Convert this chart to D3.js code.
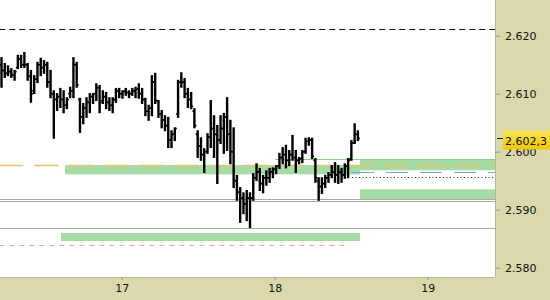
<!DOCTYPE html>
<html><head><meta charset="utf-8">
<script src="https://cdn.jsdelivr.net/npm/d3@7/dist/d3.min.js"></script>
<style>body{margin:0;background:#fff}svg{display:block}text{font-family:"DejaVu Sans",Verdana,sans-serif}</style>
</head><body><svg id="c" width="550" height="300"></svg>
<script>
// ---- data ----
const highs = [2.6163,2.6153,2.6149,2.6144,2.6141,2.6167,2.6167,2.6172,2.6153,2.6141,
2.6132,2.6155,2.6162,2.6158,2.6155,2.6141,2.6106,2.6101,2.6110,2.6106,
2.6094,2.6112,2.6163,2.6155,2.6093,2.6084,2.6094,2.6101,2.6101,2.6118,
2.6115,2.6106,2.6103,2.6094,2.6094,2.6110,2.6110,2.6106,2.6110,2.6106,
2.6110,2.6112,2.6118,2.6110,2.6093,2.6081,2.6132,2.6136,2.6089,2.6072,
2.6063,2.6060,2.6037,2.6042,2.6124,2.6137,2.6127,2.6110,2.6103,2.6075,
2.6037,2.6025,2.6006,2.6032,2.6089,2.6063,2.6046,2.6063,2.6067,2.6094,
2.6055,2.6042,2.5960,2.5939,2.5930,2.5934,2.5930,2.5963,2.5980,2.5972,
2.5960,2.5968,2.5972,2.5973,2.5977,2.5998,2.6008,2.6012,2.6003,2.6029,
2.6003,2.5991,2.6003,2.6024,2.6025,2.6024,2.5989,2.5956,2.5956,2.5960,
2.5965,2.5977,2.5982,2.5977,2.5972,2.5980,2.5989,2.6020,2.6049,2.6037];
const lows = [2.6112,2.6129,2.6132,2.6129,2.6124,2.6144,2.6146,2.6146,2.6124,2.6086,
2.6101,2.6120,2.6132,2.6136,2.6112,2.6094,2.6024,2.6072,2.6077,2.6068,
2.6075,2.6094,2.6094,2.6112,2.6034,2.6049,2.6060,2.6068,2.6084,2.6089,
2.6068,2.6084,2.6075,2.6072,2.6068,2.6086,2.6094,2.6093,2.6098,2.6094,
2.6098,2.6094,2.6093,2.6084,2.6063,2.6055,2.6063,2.6084,2.6060,2.6042,
2.6037,2.6008,2.6008,2.6020,2.6060,2.6112,2.6094,2.6077,2.6075,2.6042,
2.5991,2.5986,2.5965,2.5998,2.6008,2.5991,2.5946,2.6015,2.5998,2.6003,
2.5980,2.5939,2.5917,2.5879,2.5894,2.5882,2.5870,2.5917,2.5951,2.5934,
2.5930,2.5943,2.5948,2.5956,2.5963,2.5972,2.5980,2.5973,2.5977,2.5986,
2.5965,2.5980,2.5982,2.5998,2.6012,2.5989,2.5948,2.5917,2.5929,2.5939,
2.5948,2.5956,2.5948,2.5946,2.5948,2.5955,2.5956,2.5986,2.6015,2.6020];
const opens = [2.6150,2.6140,2.6135,2.6138,2.6132,2.6145,2.6160,2.6150,2.6150,2.6130,
2.6105,2.6125,2.6150,2.6145,2.6150,2.6120,2.6100,2.6090,2.6095,2.6090,
2.6080,2.6100,2.6105,2.6150,2.6090,2.6060,2.6075,2.6085,2.6095,2.6100,
2.6110,2.6088,2.6095,2.6085,2.6080,2.6090,2.6105,2.6100,2.6104,2.6102,
2.6100,2.6105,2.6108,2.6100,2.6090,2.6070,2.6075,2.6120,2.6088,2.6065,
2.6055,2.6045,2.6020,2.6030,2.6065,2.6120,2.6120,2.6100,2.6090,2.6070,
2.6030,2.6010,2.5995,2.6000,2.6025,2.6040,2.6030,2.6020,2.6040,2.6060,
2.6030,2.6000,2.5950,2.5930,2.5920,2.5910,2.5920,2.5920,2.5955,2.5965,
2.5945,2.5955,2.5955,2.5965,2.5970,2.5975,2.5990,2.5995,2.5985,2.5995,
2.5990,2.5985,2.5988,2.6000,2.6018,2.6020,2.5985,2.5950,2.5940,2.5945,
2.5955,2.5960,2.5965,2.5960,2.5965,2.5960,2.5975,2.5988,2.6015,2.6030];
const closes = [2.6140,2.6135,2.6138,2.6132,2.6138,2.6160,2.6150,2.6150,2.6130,2.6100,
2.6125,2.6150,2.6145,2.6150,2.6120,2.6100,2.6090,2.6095,2.6090,2.6080,
2.6090,2.6105,2.6150,2.6115,2.6060,2.6075,2.6085,2.6095,2.6100,2.6110,
2.6085,2.6095,2.6085,2.6080,2.6090,2.6105,2.6100,2.6104,2.6102,2.6100,
2.6105,2.6108,2.6100,2.6090,2.6070,2.6075,2.6120,2.6088,2.6065,2.6055,
2.6045,2.6020,2.6030,2.6040,2.6120,2.6120,2.6100,2.6090,2.6078,2.6045,
2.6010,2.5995,2.6000,2.6025,2.6040,2.6030,2.6020,2.6040,2.6060,2.6030,
2.6000,2.5950,2.5930,2.5920,2.5910,2.5920,2.5920,2.5955,2.5965,2.5945,
2.5955,2.5955,2.5965,2.5970,2.5975,2.5990,2.5995,2.5985,2.5995,2.5990,
2.5985,2.5988,2.6000,2.6018,2.6020,2.5992,2.5955,2.5940,2.5945,2.5955,
2.5960,2.5965,2.5960,2.5965,2.5960,2.5975,2.5985,2.6015,2.6030,2.6023];
const firstBarDay = 16.2143;   // time of first bar (day units)
const barStepDay = 0.02137;    // bar interval (day units)
const dayTicks = [17, 18, 19];
const priceTicks = [2.620, 2.610, 2.600, 2.590, 2.580];
const lastPrice = 2.6023;
const lastLabel = "2.602,3";
// horizontal levels: [value, fromDay, toDay]
const blackDashed = [2.6212, 16.2, 19.45];
const goldDashed = [2.5977, 16.2, 19.45];
const grayLines = [[2.5918,16.2,19.45],[2.5915,16.2,19.45],[2.5868,16.2,19.45]];
const pinkDashed = [2.5840, 16.2, 18.472];
const blueDashed = [2.5965, 18.505, 19.45];
const blackDotted = [2.5956, 18.505, 19.45];
const greenLine = [2.5987, 18.002, 19.45];
// green zones: [top, bottom, fromDay, toDay]
const greenZones = [[2.5977,2.5961,16.629,18.557],[2.5987,2.5968,18.557,19.45],
                    [2.5935,2.5918,18.557,19.45],[2.5860,2.5846,16.603,18.557]];

// ---- drawing ----
const W = 550, H = 300, PR = 495, PB = 277;
const svg = d3.select("#c");
const x = d3.scaleLinear().domain([16.2045, 19.4397]).range([0, PR]);
const y = d3.scaleLinear().domain([2.580, 2.620]).range([267.7, 35.7]);

const plot = svg.append("g");
plot.append("rect").attr("width", PR).attr("height", PB).attr("fill", "#fff");

plot.selectAll("rect.z").data(greenZones).join("rect").attr("class","z")
  .attr("x", d => x(d[2])).attr("width", d => x(Math.min(d[3],19.4397)) - x(d[2]))
  .attr("y", d => y(d[0])).attr("height", d => y(d[1]) - y(d[0]))
  .attr("fill", "#a6dba6");

function hline(d, color, w, dash) {
  plot.append("line").attr("x1", x(d[1])).attr("x2", Math.min(x(d[2]), PR))
    .attr("y1", Math.round(y(d[0])) + 0.5).attr("y2", Math.round(y(d[0])) + 0.5)
    .attr("stroke", color).attr("stroke-width", w).attr("stroke-dasharray", dash || null);
}
hline(goldDashed, "#e8c36a", 1.5, "24,11");
grayLines.forEach(g => hline(g, "#a9a9a9", 1));
hline(greenLine, "#8fd08f", 1);
hline(pinkDashed, "#d9a0cf", 1, "5,5");
hline(blueDashed, "#7ea6cc", 1, "22,12");
hline(blackDotted, "#222", 1, "1,2.5");
hline(blackDashed, "#111", 1, "6,4");

// OHLC bars
const bars = highs.map((h, i) => ({t: firstBarDay + i * barStepDay, h, l: lows[i], o: opens[i], c: closes[i]}));
const bg = plot.append("g").attr("stroke", "#000");
bg.selectAll("line.hl").data(bars).join("line").attr("class","hl")
  .attr("x1", d => x(d.t)).attr("x2", d => x(d.t))
  .attr("y1", d => y(d.h)).attr("y2", d => y(d.l) + 1)
  .attr("stroke-width", 2.4);
bg.selectAll("line.o").data(bars).join("line").attr("class","o")
  .attr("x1", d => x(d.t) - 2).attr("x2", d => x(d.t))
  .attr("y1", d => y(d.o)).attr("y2", d => y(d.o))
  .attr("stroke-width", 1.6);
bg.selectAll("line.c").data(bars).join("line").attr("class","c")
  .attr("x1", d => x(d.t)).attr("x2", d => x(d.t) + 2)
  .attr("y1", d => y(d.c)).attr("y2", d => y(d.c))
  .attr("stroke-width", 1.6);

// panels
svg.append("rect").attr("x", PR).attr("y", 0).attr("width", W - PR).attr("height", H).attr("fill", "#d9d9ab");
svg.append("rect").attr("x", 0).attr("y", PB).attr("width", PR).attr("height", H - PB).attr("fill", "#d9d9ab");
svg.append("line").attr("x1", PR + 0.5).attr("x2", PR + 0.5).attr("y1", 0).attr("y2", PB).attr("stroke", "#b8b890");
svg.append("line").attr("x1", 0).attr("x2", PR).attr("y1", PB + 0.5).attr("y2", PB + 0.5).attr("stroke", "#b8b890");

const yAxis = svg.append("g").attr("transform", `translate(${PR},0)`)
  .call(d3.axisRight(y).tickValues(priceTicks).tickSize(5).tickPadding(5)
    .tickFormat(d3.format(".3f")));
yAxis.select(".domain").remove();
yAxis.selectAll(".tick line").attr("stroke", "#9a9a80");
yAxis.selectAll("text").attr("font-size", 11).attr("fill", "#111")
  .attr("font-family", '"DejaVu Sans", Verdana, sans-serif');

const xAxis = svg.append("g").attr("transform", `translate(0,${PB})`)
  .call(d3.axisBottom(x).tickValues(dayTicks).tickSize(3).tickPadding(4).tickFormat(d3.format("d")));
xAxis.select(".domain").remove();
xAxis.selectAll(".tick line").attr("stroke", "#9a9a80");
xAxis.selectAll("text").attr("font-size", 11).attr("fill", "#111")
  .attr("font-family", '"DejaVu Sans", Verdana, sans-serif');

// last price label
const ly = y(lastPrice);
const grad = svg.append("defs").append("linearGradient").attr("id","yg").attr("x1",0).attr("x2",0).attr("y1",0).attr("y2",1);
grad.append("stop").attr("offset","0%").attr("stop-color","#fbe35a");
grad.append("stop").attr("offset","100%").attr("stop-color","#f2c800");
svg.append("rect").attr("x", 503).attr("y", ly - 8).attr("width", 47).attr("height", 19).attr("fill", "url(#yg)");
svg.append("line").attr("x1", 497).attr("x2", 503).attr("y1", Math.round(ly) + 0.5).attr("y2", Math.round(ly) + 0.5).attr("stroke", "#000");
svg.append("text").attr("x", 505).attr("y", ly + 7).attr("font-size", 11).attr("fill", "#111").text(lastLabel);
</script></body></html>
